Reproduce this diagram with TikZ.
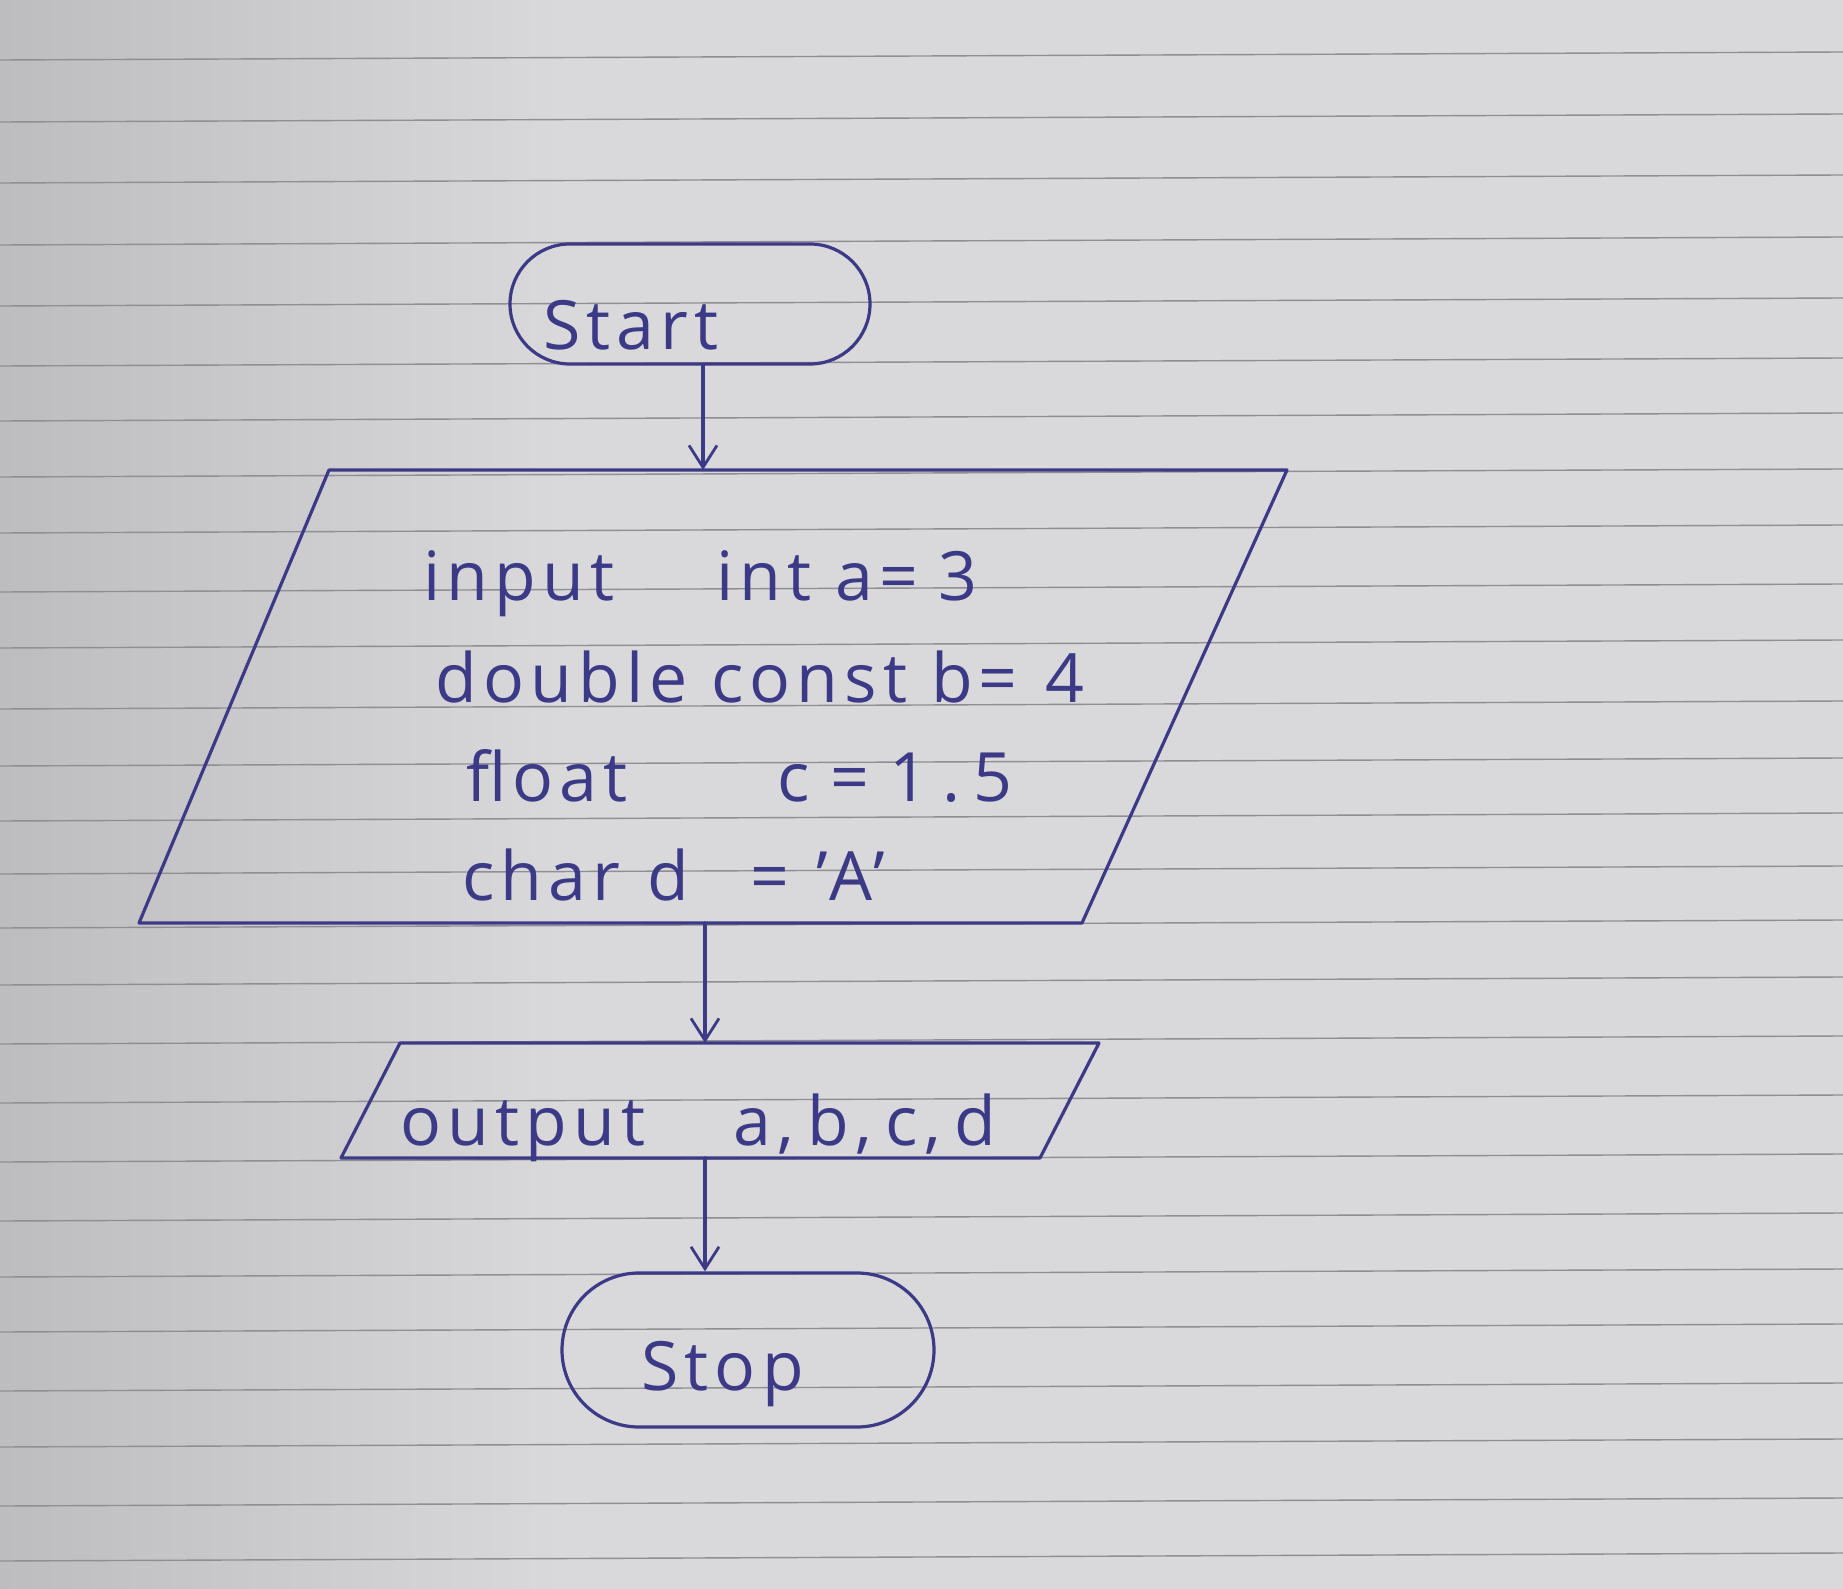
\documentclass[tikz,border=0pt]{standalone}
\usepackage{fontspec}
\setmainfont{Open Sans}[LetterSpace=9]
\usetikzlibrary{arrows.meta,shapes.misc}
\definecolor{ink}{HTML}{3C3A86}
\definecolor{paper}{HTML}{D9D9DB}
\definecolor{paperdark}{HTML}{BDBDC0}
\definecolor{rulecol}{HTML}{8E8E94}
\begin{document}
\begin{tikzpicture}[x=0.5pt,y=-0.5pt,
  inkline/.style={draw=ink, line width=1.6pt, line join=round, line cap=round},
  flow/.style={inkline, -{Straight Barb[length=11pt,width=14pt,line width=1.4pt]}},
  term/.style={inkline, rounded rectangle, inner sep=0pt},
  lbl/.style={text=ink, font=\fontsize{34}{36}\selectfont, inner sep=0pt, anchor=base west}]
\useasboundingbox (0,0) rectangle (1843,1589);
\fill[paper] (0,0) rectangle (1843,1589);
\shade[left color=paperdark, right color=paper] (0,0) rectangle (560,1589);
\foreach \yy in {56,118,179,241,302,362,417,473,529,588,644,705,762,817,870,924,981,1040,1099,1158,1217,1273,1328,1387,1443,1502,1557}
  \draw[rulecol, line width=0.7pt] (0,\yy+4) -- (1843,\yy-4);

% Start terminal
\node[term, minimum width=180pt, minimum height=60pt] (start) at (690,304) {};
\node[lbl] (starttxt) at (543,350) {Start};

% input parallelogram
\draw[inkline] (329,470) -- (1287,470) -- (1082,923) -- (139,923) -- cycle;
\coordinate (inTop) at (703,470);
\coordinate (inBot) at (705,923);
\node[lbl] (l1) at (423,600) {input\hspace{1.5em}int a=\hspace{0.3em}3};
\node[lbl] (l2) at (435,702) {double const b=\hspace{0.4em}4};
\node[lbl] (l3) at (466,801) {float\hspace{2.2em}c\hspace{0.3em}=\hspace{0.3em}1\hspace{0.2em}.\hspace{0.2em}5};
\node[lbl] (l4) at (462,900) {char\hspace{0.4em}d\hspace{0.9em}=\hspace{0.4em}'A'};

% output parallelogram
\draw[inkline] (400,1043) -- (1099,1043) -- (1040,1158) -- (341,1158) -- cycle;
\coordinate (outTop) at (705,1043);
\coordinate (outBot) at (705,1158);
\node[lbl] (outtxt) at (400,1145) {output\hspace{1.3em}a,\hspace{0.2em}b,\hspace{0.2em}c,\hspace{0.2em}d};

% Stop terminal
\node[term, minimum width=186pt, minimum height=77pt] (stop) at (748,1350) {};
\node[lbl] (stoptxt) at (641,1390) {Stop};

% connectors
\draw[flow] (start.south -| inTop) -- (inTop);
\draw[flow] (inBot) -- (outTop);
\draw[flow] (outBot) -- (outBot |- stop.north);
\end{tikzpicture}
\end{document}
